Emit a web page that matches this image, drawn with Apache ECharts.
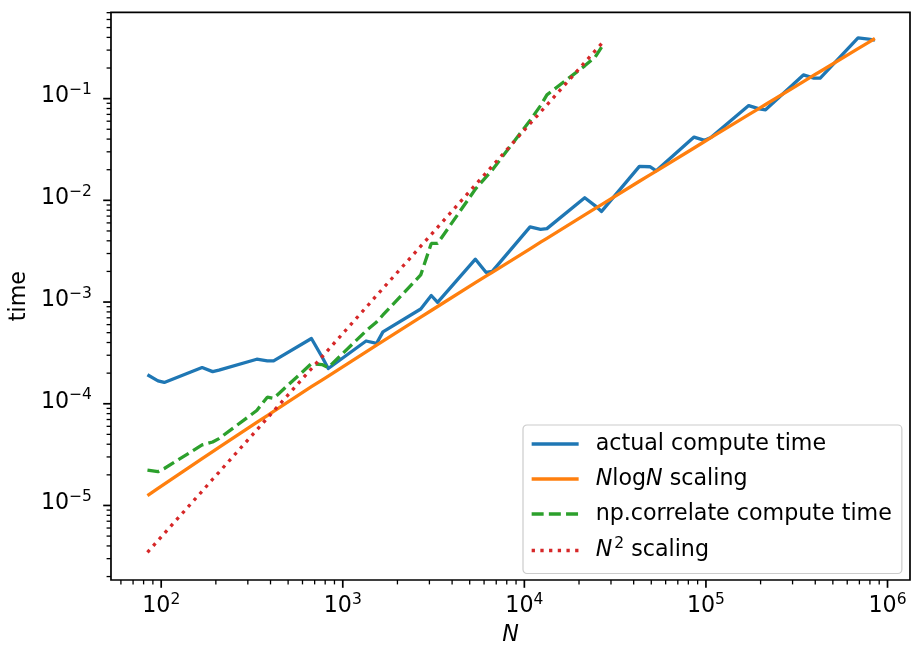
<!DOCTYPE html>
<html>
<head>
<meta charset="utf-8">
<script src="https://cdn.jsdelivr.net/npm/echarts@6/dist/echarts.min.js"></script>
<style>
  html, body { margin: 0; padding: 0; background: #fff; }
  #chart { width: 913px; height: 651px; }
</style>
</head>
<body>
<div id="chart"></div>
<script>
  // signal lengths N
  var nValues = [84, 96, 104, 168, 192, 208, 336, 384, 416, 672, 768, 832,
    1344, 1536, 1664, 2688, 3072, 3328, 5376, 6144, 6656, 10752, 12288, 13312,
    21504, 24576, 26624, 43008, 49152, 53248, 86016, 98304, 106496,
    172032, 196608, 212992, 344064, 393216, 425984, 688128, 786432, 851968];

  // timings (s)
  var actualTime = [1.93e-4, 1.68e-4, 1.62e-4, 2.27e-4, 2.07e-4, 2.14e-4, 2.74e-4, 2.64e-4, 2.64e-4,
    4.38e-4, 2.9e-4, 2.22e-4, 4.14e-4, 3.92e-4, 5.09e-4, 8.55e-4, 1.16e-3, 9.93e-4,
    2.64e-3, 1.96e-3, 2.00e-3, 5.48e-3, 5.19e-3, 5.27e-3, 1.06e-2, 8.83e-3, 7.78e-3,
    2.16e-2, 2.14e-2, 1.95e-2, 4.19e-2, 3.89e-2, 4.14e-2, 8.55e-2, 7.94e-2, 7.76e-2,
    0.171, 0.159, 0.159, 0.396, 0.385, 0.377];
  var nlognTime = [1.25e-5, 1.47e-5, 1.62e-5, 2.88e-5, 3.38e-5, 3.72e-5, 6.55e-5, 7.66e-5, 8.40e-5,
    1.47e-4, 1.71e-4, 1.87e-4, 3.24e-4, 3.78e-4, 4.13e-4, 7.11e-4, 8.26e-4, 9.04e-4,
    1.55e-3, 1.80e-3, 1.96e-3, 3.34e-3, 3.88e-3, 4.23e-3, 7.19e-3, 8.32e-3, 9.09e-3,
    1.54e-2, 1.78e-2, 1.94e-2, 3.27e-2, 3.79e-2, 4.13e-2, 6.95e-2, 8.03e-2, 8.75e-2,
    0.147, 0.170, 0.185, 0.310, 0.358, 0.390];
  var correlateTime = [2.23e-5, 2.15e-5, 2.31e-5, 3.94e-5, 4.21e-5, 4.54e-5, 8.59e-5, 1.16e-4, 1.13e-4,
    2.48e-4, 2.43e-4, 2.27e-4, 5.21e-4, 6.38e-4, 7.46e-4, 1.85e-3, 3.77e-3, 3.77e-3,
    1.29e-2, 1.69e-2, 1.99e-2, 6.10e-2, 8.55e-2, 0.109, 0.210, 0.257, 0.321];
  var n2Time = [3.46e-6, 4.52e-6, 5.30e-6, 1.38e-5, 1.81e-5, 2.12e-5, 5.53e-5, 7.23e-5, 8.48e-5,
    2.21e-4, 2.89e-4, 3.39e-4, 8.85e-4, 1.16e-3, 1.36e-3, 3.54e-3, 4.62e-3, 5.43e-3,
    1.42e-2, 1.85e-2, 2.17e-2, 5.67e-2, 7.40e-2, 8.68e-2, 0.227, 0.296, 0.347];

  var seriesNames = ['actual compute time', 'NlogN scaling', 'np.correlate compute time', 'N^2 scaling'];

  // axis ticks
  var xMajor = [1e2, 1e3, 1e4, 1e5, 1e6];
  var yMajor = [1e-5, 1e-4, 1e-3, 1e-2, 1e-1];

  var xMin = 52.9, xMax = 1.33e6;
  var yMin = 1.85e-6, yMax = 0.706;
  var FONT = 'DejaVu Sans';
  var FS = 22.2;
  var LW = 3.3;

  function minorTicks(lo, hi) {
    var out = [];
    for (var e = Math.floor(Math.log10(lo)); e <= Math.ceil(Math.log10(hi)); e++) {
      for (var m = 2; m <= 9; m++) {
        var v = m * Math.pow(10, e);
        if (v >= lo && v <= hi) out.push(v);
      }
    }
    return out;
  }
  var xMinor = minorTicks(xMin, xMax);
  var yMinor = minorTicks(yMin, yMax);

  function pairs(arr) {
    return arr.map(function (t, i) { return [nValues[i], t]; });
  }

  function powLabel(v) {
    var e = Math.round(Math.log10(v));
    if (Math.abs(v / Math.pow(10, e) - 1) > 1e-6) return '';
    var s = e < 0 ? '\u2212' + (-e) : '' + e;
    return '{b|10}{s|' + s + '}';
  }

  var labelRich = {
    b: { fontFamily: FONT, fontSize: FS, color: '#000' },
    s: { fontFamily: FONT, fontSize: 15.5, color: '#000', padding: [0, 0, 13, 0] }
  };
  var yLabelRich = {
    b: { fontFamily: FONT, fontSize: FS, color: '#000', padding: [0, 0, 4, 0] },
    s: { fontFamily: FONT, fontSize: 15.5, color: '#000', padding: [0, 0, 17, 0] }
  };

  function xTicks(len, w) {
    return function (params, api) {
      var p = api.coord([api.value(0), yMin]);
      return { type: 'line', shape: { x1: p[0], y1: p[1], x2: p[0], y2: p[1] + len },
        style: { stroke: '#000', lineWidth: w } };
    };
  }
  function yTicks(len, w) {
    return function (params, api) {
      var p = api.coord([xMin, api.value(1)]);
      return { type: 'line', shape: { x1: p[0], y1: p[1], x2: p[0] - len, y2: p[1] },
        style: { stroke: '#000', lineWidth: w } };
    };
  }

  var chart = echarts.init(document.getElementById('chart'));
  var option = {
    animation: false,
    backgroundColor: '#fff',
    grid: {
      left: 110.7, right: 3, top: 12.3, bottom: 67,
      show: true, borderColor: '#000', borderWidth: 1.7, backgroundColor: 'transparent'
    },
    legend: {
      data: seriesNames,
      orient: 'vertical',
      left: 523, top: 425,
      padding: [6, 10, 10, 7],
      itemGap: 9,
      itemWidth: 47, itemHeight: 14,
      backgroundColor: 'rgba(255,255,255,0.8)',
      borderColor: '#cccccc', borderWidth: 1.2, borderRadius: 4,
      lineStyle: { width: LW },
      itemStyle: { opacity: 0 },
      formatter: function (name) {
        if (name === 'NlogN scaling') return '{i|N}log{i|N} scaling';
        if (name === 'N^2 scaling') return '{i|N}{sup|2} scaling';
        return name;
      },
      textStyle: {
        fontFamily: FONT, fontSize: FS, color: '#000', lineHeight: 26,
        padding: [0, 0, 0, 12],
        rich: {
          i: { fontFamily: FONT, fontSize: FS, fontStyle: 'italic', color: '#000' },
          sup: { fontFamily: FONT, fontSize: 15.5, color: '#000', padding: [0, 0, 13, 2] }
        }
      }
    },
    xAxis: {
      type: 'log', logBase: 10, min: xMin, max: xMax,
      name: 'N', nameLocation: 'middle', nameGap: 44,
      nameTextStyle: { fontFamily: FONT, fontSize: FS, fontStyle: 'italic', color: '#000' },
      axisLine: { show: false },
      axisTick: { show: false },
      splitLine: { show: false },
      axisLabel: { margin: 12, formatter: powLabel, rich: labelRich }
    },
    yAxis: {
      type: 'log', logBase: 10, min: yMin, max: yMax,
      name: 'time', nameLocation: 'middle', nameGap: 72,
      nameTextStyle: { fontFamily: FONT, fontSize: FS, color: '#000' },
      axisLine: { show: false },
      axisTick: { show: false },
      splitLine: { show: false },
      axisLabel: { margin: 19, formatter: powLabel, rich: yLabelRich }
    },
    series: [
      { name: seriesNames[0], type: 'line', data: pairs(actualTime), symbol: 'none',
        color: '#1f77b4', lineStyle: { width: LW, color: '#1f77b4', join: 'round' } },
      { name: seriesNames[1], type: 'line', data: pairs(nlognTime), symbol: 'none',
        color: '#ff7f0e', lineStyle: { width: LW, color: '#ff7f0e', join: 'round' } },
      { name: seriesNames[2], type: 'line', data: pairs(correlateTime), symbol: 'none',
        color: '#2ca02c', lineStyle: { width: LW, color: '#2ca02c', type: [12, 5.2], cap: 'butt' } },
      { name: seriesNames[3], type: 'line', data: pairs(n2Time), symbol: 'none',
        color: '#d62728', lineStyle: { width: LW, color: '#d62728', type: [3.3, 5.4], cap: 'butt' } },
      { type: 'custom', silent: true, clip: false, renderItem: xTicks(7.8, 1.7),
        data: xMajor.map(function (v) { return [v, yMin]; }) },
      { type: 'custom', silent: true, clip: false, renderItem: xTicks(4.4, 1.3),
        data: xMinor.map(function (v) { return [v, yMin]; }) },
      { type: 'custom', silent: true, clip: false, renderItem: yTicks(7.8, 1.7),
        data: yMajor.map(function (v) { return [xMin, v]; }) },
      { type: 'custom', silent: true, clip: false, renderItem: yTicks(4.4, 1.3),
        data: yMinor.map(function (v) { return [xMin, v]; }) }
    ]
  };
  chart.setOption(option);
</script>
</body>
</html>
